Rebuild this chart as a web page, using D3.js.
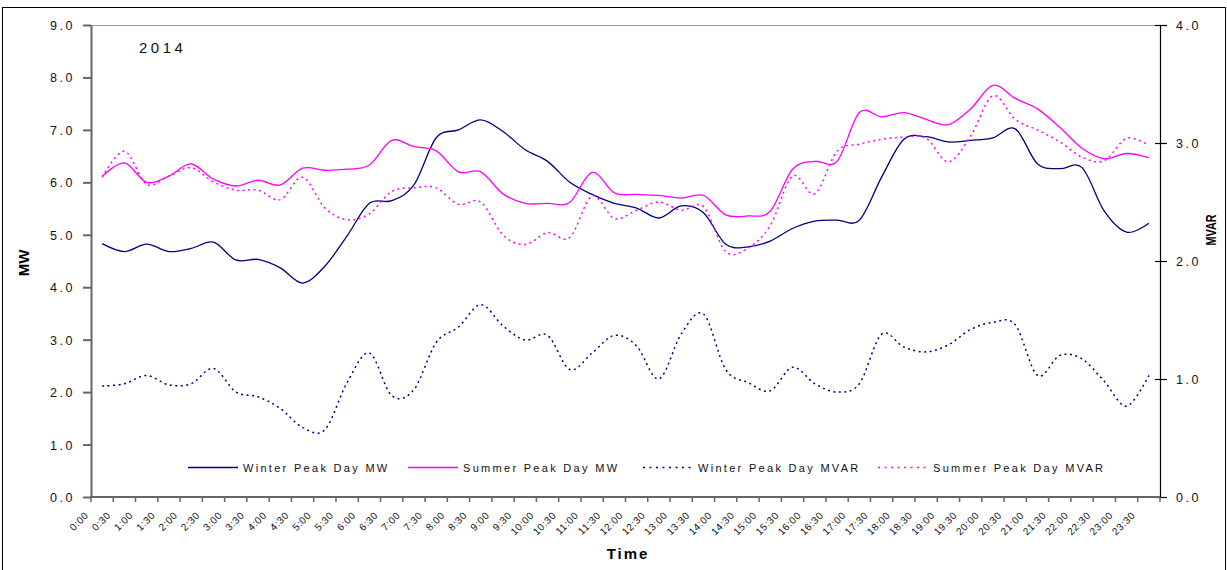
<!DOCTYPE html>
<html><head><meta charset="utf-8">
<script src="https://cdn.jsdelivr.net/npm/d3@7"></script>
<style>
body{margin:0;background:#fff;}
svg{display:block;font-family:"Liberation Sans",Arial,sans-serif;}
</style></head><body>
<svg id="chart" width="1227" height="570"></svg>
<script>
const times = ["0:00","0:30","1:00","1:30","2:00","2:30","3:00","3:30","4:00","4:30","5:00","5:30",
  "6:00","6:30","7:00","7:30","8:00","8:30","9:00","9:30","10:00","10:30","11:00","11:30",
  "12:00","12:30","13:00","13:30","14:00","14:30","15:00","15:30","16:00","16:30","17:00","17:30",
  "18:00","18:30","19:00","19:30","20:00","20:30","21:00","21:30","22:00","22:30","23:00","23:30"];
const winterMW = [4.83,4.68,4.82,4.68,4.74,4.86,4.52,4.53,4.37,4.08,4.40,4.98,
  5.60,5.65,5.95,6.85,7.00,7.19,6.97,6.62,6.40,6.00,5.77,5.60,
  5.51,5.32,5.55,5.42,4.82,4.77,4.88,5.12,5.26,5.28,5.28,6.10,
  6.82,6.87,6.77,6.80,6.85,7.02,6.35,6.26,6.28,5.45,5.05,5.22];
const summerMW = [6.11,6.37,6.00,6.12,6.35,6.06,5.93,6.04,5.95,6.27,6.23,6.25,
  6.33,6.80,6.68,6.60,6.20,6.20,5.78,5.60,5.60,5.62,6.19,5.80,
  5.77,5.75,5.70,5.75,5.38,5.36,5.45,6.25,6.40,6.40,7.33,7.25,
  7.33,7.20,7.10,7.40,7.85,7.60,7.40,7.05,6.65,6.45,6.55,6.47];
const winterMVAR = [0.94,0.96,1.03,0.95,0.96,1.09,0.89,0.85,0.75,0.59,0.57,0.97,
  1.22,0.86,0.91,1.31,1.44,1.63,1.45,1.33,1.37,1.08,1.22,1.37,
  1.28,1.00,1.38,1.55,1.08,0.97,0.90,1.10,0.96,0.89,0.96,1.38,
  1.27,1.23,1.29,1.42,1.48,1.46,1.03,1.20,1.17,0.98,0.77,1.03];
const summerMVAR = [2.71,2.93,2.65,2.72,2.79,2.67,2.60,2.60,2.52,2.71,2.45,2.35,
  2.40,2.59,2.62,2.62,2.48,2.50,2.22,2.14,2.24,2.20,2.55,2.36,
  2.43,2.50,2.43,2.46,2.08,2.11,2.30,2.72,2.57,2.93,2.99,3.03,
  3.05,3.04,2.84,3.06,3.40,3.20,3.11,3.01,2.88,2.85,3.04,2.98];
const mwTicks = [0,1,2,3,4,5,6,7,8,9];
const mvarTicks = [0,1,2,3,4];
const seriesNames = ["Winter Peak Day MW","Summer Peak Day MW","Winter Peak Day MVAR","Summer Peak Day MVAR"];
const yearLabel = "2014";

const svg = d3.select("#chart");
const L = 91, R = 1160, T = 25, B = 497;
const FONT = '"Liberation Sans", Arial, sans-serif';

svg.append("rect").attr("x",2.5).attr("y",7.5).attr("width",1223).attr("height",620)
  .attr("fill","#fff").attr("stroke","#000").attr("stroke-width",1);

const xBand = d3.scaleBand().domain(times).range([L, R]);
const xc = t => xBand(t) + xBand.bandwidth()/2;
const yL = d3.scaleLinear().domain([0, 9]).range([B, T]);
const yR = d3.scaleLinear().domain([0, 4]).range([B, T]);

// top border of plot area
svg.append("line").attr("x1",L).attr("x2",R).attr("y1",T+0.5).attr("y2",T+0.5)
  .attr("stroke","#999").attr("stroke-width",1);

// Left axis
const gL = svg.append("g").attr("transform",`translate(${L},0)`)
  .call(d3.axisLeft(yL).tickValues(mwTicks).tickFormat(d3.format(".1f")).tickSize(8).tickPadding(8).tickSizeOuter(0));
gL.select(".domain").attr("stroke","#666").attr("stroke-width",2);
gL.selectAll(".tick line").attr("stroke","#666").attr("stroke-width",2);
gL.selectAll(".tick text").attr("font-family",FONT).attr("font-size",12.5)
  .attr("letter-spacing","2.5px").attr("fill","#111").attr("dy","0.36em");

// Right axis
const gR = svg.append("g").attr("transform",`translate(${R},0)`)
  .call(d3.axisRight(yR).tickValues(mvarTicks).tickFormat(d3.format(".1f")).tickSize(7).tickPadding(9).tickSizeOuter(0));
gR.select(".domain").attr("stroke","#000").attr("stroke-width",1.2);
gR.selectAll(".tick line").attr("x1",-5).attr("stroke","#000").attr("stroke-width",1.2);
gR.selectAll(".tick text").attr("font-family",FONT).attr("font-size",12.5)
  .attr("letter-spacing","2.5px").attr("fill","#111").attr("dy","0.36em");

// Bottom axis (labels at category centres, ticks at category boundaries)
const gB = svg.append("g").attr("transform",`translate(0,${B})`)
  .call(d3.axisBottom(xBand).tickSize(0).tickPadding(0).tickSizeOuter(0));
gB.select(".domain").remove();
gB.selectAll(".tick text").attr("font-family",FONT).attr("font-size",10)
  .attr("letter-spacing","0.6px").attr("fill","#111")
  .attr("text-anchor","end").attr("dy",0).attr("y",0)
  .attr("transform","translate(-13,19) rotate(-45)");
const bounds = times.map(t => xBand(t)).concat([R]);
svg.append("g").selectAll("line").data(bounds).join("line")
  .attr("x1",d=>d).attr("x2",d=>d).attr("y1",B).attr("y2",B+5)
  .attr("stroke","#666").attr("stroke-width",1.5);
svg.append("line").attr("x1",L-1).attr("x2",R).attr("y1",B).attr("y2",B)
  .attr("stroke","#666").attr("stroke-width",2);

// Series
const series = [
  {name: seriesNames[0], values: winterMW, y: yL, color: "#000080", dash: null},
  {name: seriesNames[1], values: summerMW, y: yL, color: "#ff00ff", dash: null},
  {name: seriesNames[2], values: winterMVAR, y: yR, color: "#000080", dash: "2,3.5"},
  {name: seriesNames[3], values: summerMVAR, y: yR, color: "#ff00ff", dash: "2,3.5"}
];
series.forEach(s => {
  const line = d3.line().x((d,i)=>xc(times[i])).y(d=>s.y(d)).curve(d3.curveCatmullRom.alpha(0));
  svg.append("path").datum(s.values).attr("d",line).attr("fill","none")
    .attr("stroke",s.color).attr("stroke-width", s.dash ? 1.5 : 1.3)
    .attr("stroke-dasharray", s.dash);
});

// Legend
const legendX = [188, 408, 643, 878];
const legendY = 467.5;
series.forEach((s,i) => {
  const g = svg.append("g");
  g.append("line").attr("x1",legendX[i]).attr("x2",legendX[i]+50).attr("y1",legendY).attr("y2",legendY)
    .attr("stroke",s.color).attr("stroke-width",1.3).attr("stroke-dasharray", s.dash ? "2,4.5" : null);
  g.append("text").attr("x",legendX[i]+55).attr("y",legendY+4)
    .attr("font-family",FONT).attr("font-size",11).attr("letter-spacing","2.3px")
    .attr("fill","#111").text(s.name);
});

// Year label
svg.append("text").attr("x",139).attr("y",53).attr("font-family",FONT).attr("font-size",15)
  .attr("letter-spacing","3.5px").attr("fill","#111").text(yearLabel);

// Axis titles
svg.append("text").attr("transform","translate(28.5,263) rotate(-90)").attr("text-anchor","middle")
  .attr("font-family",FONT).attr("font-size",15).attr("font-weight","bold").text("MW");
svg.append("text").attr("transform","translate(1216,230) rotate(-90)").attr("text-anchor","middle")
  .attr("font-family",FONT).attr("font-size",14).attr("font-weight","bold")
  .attr("textLength",31).attr("lengthAdjust","spacingAndGlyphs").text("MVAR");
svg.append("text").attr("x",628).attr("y",559).attr("text-anchor","middle")
  .attr("font-family",FONT).attr("font-size",15).attr("font-weight","bold")
  .attr("letter-spacing","2px").text("Time");
</script>
</body></html>
